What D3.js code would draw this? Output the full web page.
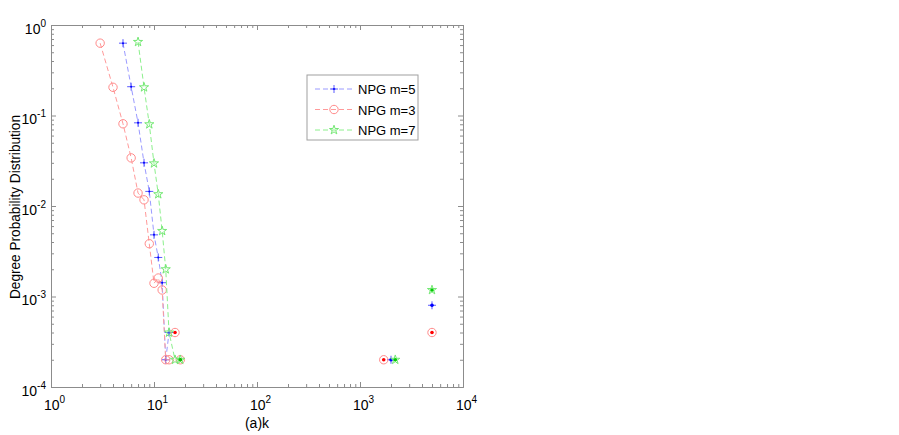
<!DOCTYPE html>
<html>
<head>
<meta charset="utf-8">
<script src="https://cdn.jsdelivr.net/npm/d3@7"></script>
<style>
  body { margin: 0; background: #fff; }
  text { font-family: "Liberation Sans", Arial, sans-serif; }
</style>
</head>
<body>
<svg id="chart" width="899" height="435"></svg>
<script>
// series (k, P(k))
const kM5 = [5, 6, 7, 8, 9, 10, 11, 12, 13, 14];
const pM5 = [0.63, 0.208, 0.083, 0.030, 0.0145, 0.0048, 0.0027, 0.00142, 0.0002, 0.0004];
const kM3 = [3, 4, 5, 6, 7, 8, 9, 10, 11, 12, 13, 14];
const pM3 = [0.63, 0.205, 0.081, 0.034, 0.0139, 0.0117, 0.00383, 0.0014, 0.0016, 0.00118, 0.0002, 0.0002];
const kM7 = [7, 8, 9, 10, 11, 12, 13, 14, 16];
const pM7 = [0.65, 0.205, 0.080, 0.0296, 0.0135, 0.0053, 0.0020, 0.0004, 0.0002];

// isolated points (drawn with a filled centre, no line)
const kM5iso = [2000, 5000];
const pM5iso = [0.0002, 0.0008];
const kM3iso = [16, 18, 1700, 5000];
const pM3iso = [0.0004, 0.0002, 0.0002, 0.0004];
const kM7iso = [18, 2200, 5000];
const pM7iso = [0.0002, 0.0002, 0.00118];

const seriesNames = ['NPG m=5', 'NPG m=3', 'NPG m=7'];
const xMajor = [1, 10, 100, 1000, 10000];
const yMajor = [1e-4, 1e-3, 1e-2, 1e-1, 1];

const svg = d3.select('#chart');
const plotL = 51, plotR = 463, plotT = 25, plotB = 387;

const x = d3.scaleLog().domain([1, 1e4]).range([plotL, plotR]);
const y = d3.scaleLog().domain([1e-4, 1]).range([plotB, plotT]);

const xMinor = [], yMinor = [];
xMajor.slice(0, -1).forEach(d => { for (let i = 2; i < 10; i++) xMinor.push(d * i); });
yMajor.slice(0, -1).forEach(d => { for (let i = 2; i < 10; i++) yMinor.push(d * i); });

const axisColor = '#8c8c8c';

function styleAxis(g) {
  g.select('.domain').attr('stroke', axisColor);
  g.selectAll('.tick line').attr('stroke', axisColor);
}

// minor + major ticks on all four sides, pointing inward
svg.append('g').attr('transform', `translate(0,${plotB})`)
  .call(d3.axisBottom(x).tickValues(xMinor).tickSize(-3).tickFormat('').tickSizeOuter(0)).call(styleAxis);
svg.append('g').attr('transform', `translate(0,${plotT})`)
  .call(d3.axisTop(x).tickValues(xMinor).tickSize(-3).tickFormat('').tickSizeOuter(0)).call(styleAxis);
svg.append('g').attr('transform', `translate(${plotL},0)`)
  .call(d3.axisLeft(y).tickValues(yMinor).tickSize(-3).tickFormat('').tickSizeOuter(0)).call(styleAxis);
svg.append('g').attr('transform', `translate(${plotR},0)`)
  .call(d3.axisRight(y).tickValues(yMinor).tickSize(-3).tickFormat('').tickSizeOuter(0)).call(styleAxis);

const xAxis = svg.append('g').attr('transform', `translate(0,${plotB})`)
  .call(d3.axisBottom(x).tickValues(xMajor).tickSize(-5).tickPadding(13).tickFormat('').tickSizeOuter(0))
  .call(styleAxis);
svg.append('g').attr('transform', `translate(0,${plotT})`)
  .call(d3.axisTop(x).tickValues(xMajor).tickSize(-5).tickFormat('').tickSizeOuter(0)).call(styleAxis);
const yAxis = svg.append('g').attr('transform', `translate(${plotL},0)`)
  .call(d3.axisLeft(y).tickValues(yMajor).tickSize(-5).tickPadding(6).tickFormat('').tickSizeOuter(0))
  .call(styleAxis);
svg.append('g').attr('transform', `translate(${plotR},0)`)
  .call(d3.axisRight(y).tickValues(yMajor).tickSize(-5).tickFormat('').tickSizeOuter(0)).call(styleAxis);

function powerLabel(sel) {
  sel.each(function(d) {
    const t = d3.select(this).attr('fill', '#000').attr('font-size', 14);
    t.text(null);
    t.append('tspan').text('10');
    t.append('tspan').attr('dy', -7).attr('font-size', 10).text(Math.round(Math.log10(d)));
  });
}
xAxis.selectAll('.tick text').call(powerLabel).attr('text-anchor', 'middle').attr('dx', 3);
yAxis.selectAll('.tick text').call(powerLabel).attr('dy', '0.6em').attr('x', -5);

// axis titles
svg.append('text').attr('x', x(100)).attr('y', 428).attr('text-anchor', 'middle')
  .attr('font-size', 14).text('(a)k');
svg.append('text').attr('transform', `translate(20,207) rotate(-90)`)
  .attr('text-anchor', 'middle').attr('font-size', 14)
  .attr('textLength', 184).attr('lengthAdjust', 'spacingAndGlyphs')
  .text('Degree Probability Distribution');

const colors = {
  m5: { line: '#9a9aff', mark: '#5a5aff', dot: '#0000ff' },
  m3: { line: '#ff9a9a', mark: '#ff8a8a', dot: '#ff0000' },
  m7: { line: '#8cf08c', mark: '#74e874', dot: '#00cc00' }
};

const starPath = d3.symbol().type(d3.symbolStar).size(26)();

function drawMarker(g, type, c) {
  if (type === 'plus') {
    g.append('path').attr('d', 'M-4,0H4M0,-4V4').attr('stroke', c.mark).attr('stroke-width', 1).attr('fill', 'none');
    g.append('circle').attr('r', 1).attr('fill', c.dot);
  } else if (type === 'circle') {
    g.append('circle').attr('r', 4.2).attr('fill', 'none').attr('stroke', c.mark).attr('stroke-width', 1);
  } else {
    g.append('path').attr('d', starPath).attr('fill', 'none').attr('stroke', c.mark).attr('stroke-width', 1);
  }
}

const line = d3.line().x(d => x(d[0])).y(d => y(d[1]));

function drawSeries(ks, ps, kIso, pIso, type, c) {
  const pts = ks.map((k, i) => [k, ps[i]]);
  svg.append('path').datum(pts).attr('d', line).attr('fill', 'none')
    .attr('stroke', c.line).attr('stroke-width', 1).attr('stroke-dasharray', '5,3');
  pts.forEach(p => {
    const g = svg.append('g').attr('transform', `translate(${x(p[0])},${y(p[1])})`);
    drawMarker(g, type, c);
  });
  kIso.forEach((k, i) => {
    const g = svg.append('g').attr('transform', `translate(${x(k)},${y(pIso[i])})`);
    drawMarker(g, type, c);
    g.append('circle').attr('r', 1.8).attr('fill', c.dot);
  });
}

drawSeries(kM5, pM5, kM5iso, pM5iso, 'plus', colors.m5);
drawSeries(kM3, pM3, kM3iso, pM3iso, 'circle', colors.m3);
drawSeries(kM7, pM7, kM7iso, pM7iso, 'star', colors.m7);

// legend
const legend = svg.append('g').attr('transform', 'translate(307,75)');
legend.append('rect').attr('width', 111).attr('height', 65).attr('fill', '#fff').attr('stroke', '#a0a0a0');
const legendTypes = ['plus', 'circle', 'star'];
const legendColors = [colors.m5, colors.m3, colors.m7];
seriesNames.forEach((name, i) => {
  const yy = 14 + i * 20.5;
  const c = legendColors[i];
  legend.append('line').attr('x1', 8).attr('x2', 46).attr('y1', yy).attr('y2', yy)
    .attr('stroke', c.line).attr('stroke-dasharray', '5,3');
  drawMarker(legend.append('g').attr('transform', `translate(27,${yy})`), legendTypes[i], c);
  legend.append('text').attr('x', 51).attr('y', yy + 5).attr('font-size', 13).text(name);
});
</script>
</body>
</html>
